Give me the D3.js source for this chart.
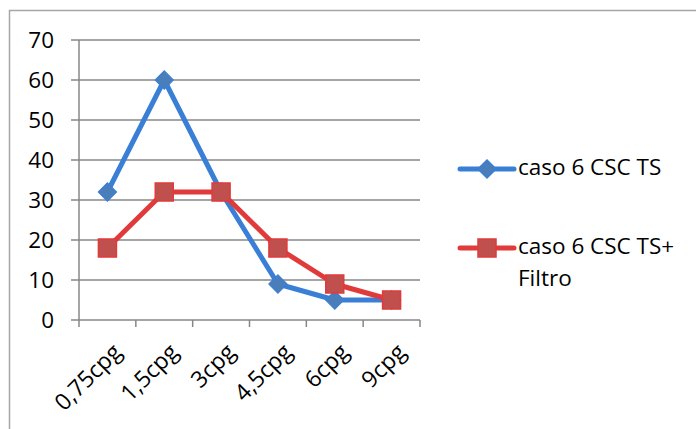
<!DOCTYPE html>
<html>
<head>
<meta charset="utf-8">
<script src="https://cdn.jsdelivr.net/npm/d3@7"></script>
<style>
  body { margin: 0; background: #fff; }
  svg { display: block; font-family: "Open Sans", sans-serif; }
</style>
</head>
<body>
<script>
const categories = ["0,75cpg", "1,5cpg", "3cpg", "4,5cpg", "6cpg", "9cpg"]
const serieTS = [32, 60, 32, 9, 5, 5]
const serieFiltro = [18, 32, 32, 18, 9, 5]
const yTicks = [0, 10, 20, 30, 40, 50, 60, 70]
const seriesNames = ["caso 6 CSC TS", "caso 6 CSC TS+|Filtro"]

const width = 696, height = 429
const fs = 22.5

const svg = d3.select("body").append("svg")
    .attr("width", width)
    .attr("height", height)

// marco del gráfico (solo se ven arriba e izquierda)
svg.append("rect")
    .attr("x", 9.5).attr("y", 10.5)
    .attr("width", 720).attr("height", 440)
    .attr("fill", "none")
    .attr("stroke", "#a6a6a6")
    .attr("stroke-width", 1.5)

const x = d3.scaleBand().domain(categories).range([79, 420])
const y = d3.scaleLinear().domain([0, 70]).range([320, 40])

// rejilla
svg.append("g")
    .selectAll("line")
    .data(yTicks)
    .join("line")
    .attr("x1", 71).attr("x2", 420)
    .attr("y1", d => y(d)).attr("y2", d => y(d))
    .attr("stroke", "#878787")
    .attr("stroke-width", 1.5)

// eje Y
svg.append("line")
    .attr("x1", 79).attr("x2", 79)
    .attr("y1", y(70)).attr("y2", y(0))
    .attr("stroke", "#878787").attr("stroke-width", 1.5)

svg.append("g")
    .selectAll("text")
    .data(yTicks)
    .join("text")
    .attr("x", 54)
    .attr("y", d => y(d))
    .attr("dy", "0.36em")
    .attr("text-anchor", "end")
    .attr("font-size", fs)
    .attr("fill", "#000")
    .text(d => d)

// ticks del eje X
const xTickPos = categories.map(c => x(c)).concat([x.range()[1]])
svg.append("g")
    .selectAll("line")
    .data(xTickPos)
    .join("line")
    .attr("x1", d => d).attr("x2", d => d)
    .attr("y1", y(0)).attr("y2", y(0) + 7)
    .attr("stroke", "#878787").attr("stroke-width", 1.5)

svg.append("g")
    .selectAll("text")
    .data(categories)
    .join("text")
    .attr("transform", d => `translate(${x(d) + x.bandwidth() / 2 + 4},${y(0) + 22}) rotate(-45)`)
    .attr("text-anchor", "end")
    .attr("dy", "0.7em")
    .attr("font-size", 23)
    .attr("fill", "#000")
    .text(d => d)

const cx = c => x(c) + x.bandwidth() / 2
const line = d3.line().x((d, i) => cx(categories[i])).y(d => y(d))

const blue = { line: "#3a7fd6", fill: "#4a7ebb", stroke: "#3a7fd6" }
const red = { line: "#e03a3a", fill: "#c0504d", stroke: "#e03a3a" }

svg.append("path")
    .datum(serieTS)
    .attr("d", line)
    .attr("fill", "none")
    .attr("stroke", blue.line)
    .attr("stroke-width", 5)
    .attr("stroke-linejoin", "round")

svg.append("g")
    .selectAll("path")
    .data(serieTS)
    .join("path")
    .attr("transform", (d, i) => `translate(${cx(categories[i])},${y(d)}) rotate(45)`)
    .attr("d", "M-6.5,-6.5H6.5V6.5H-6.5Z")
    .attr("fill", blue.fill)
    .attr("stroke", blue.stroke)
    .attr("stroke-width", 1)

svg.append("path")
    .datum(serieFiltro)
    .attr("d", line)
    .attr("fill", "none")
    .attr("stroke", red.line)
    .attr("stroke-width", 5)
    .attr("stroke-linejoin", "round")

svg.append("g")
    .selectAll("rect")
    .data(serieFiltro)
    .join("rect")
    .attr("x", (d, i) => cx(categories[i]) - 9)
    .attr("y", d => y(d) - 9)
    .attr("width", 18).attr("height", 18)
    .attr("fill", red.fill)
    .attr("stroke", red.stroke)
    .attr("stroke-width", 1.5)

// leyenda
const legendY = [169, 248]
const legend = svg.append("g")
    .selectAll("g")
    .data(seriesNames)
    .join("g")
    .attr("transform", (d, i) => `translate(0,${legendY[i]})`)

legend.append("line")
    .attr("x1", 460).attr("x2", 514)
    .attr("stroke", (d, i) => i ? red.line : blue.line)
    .attr("stroke-width", 5)
    .attr("stroke-linecap", "round")

legend.append("path")
    .attr("transform", "translate(487,0)")
    .attr("d", (d, i) => i
        ? "M-9,-9H9V9H-9Z"
        : "M0,-9L9,0L0,9L-9,0Z")
    .attr("fill", (d, i) => i ? red.fill : blue.fill)
    .attr("stroke", (d, i) => i ? red.stroke : blue.stroke)
    .attr("stroke-width", 1.5)

legend.append("text")
    .attr("x", 518)
    .attr("font-size", fs)
    .attr("fill", "#000")
    .selectAll("tspan")
    .data(d => d.split("|"))
    .join("tspan")
    .attr("x", 518)
    .attr("dy", (d, i) => i ? 32 : 6)
    .text(d => d)
</script>
</body>
</html>
